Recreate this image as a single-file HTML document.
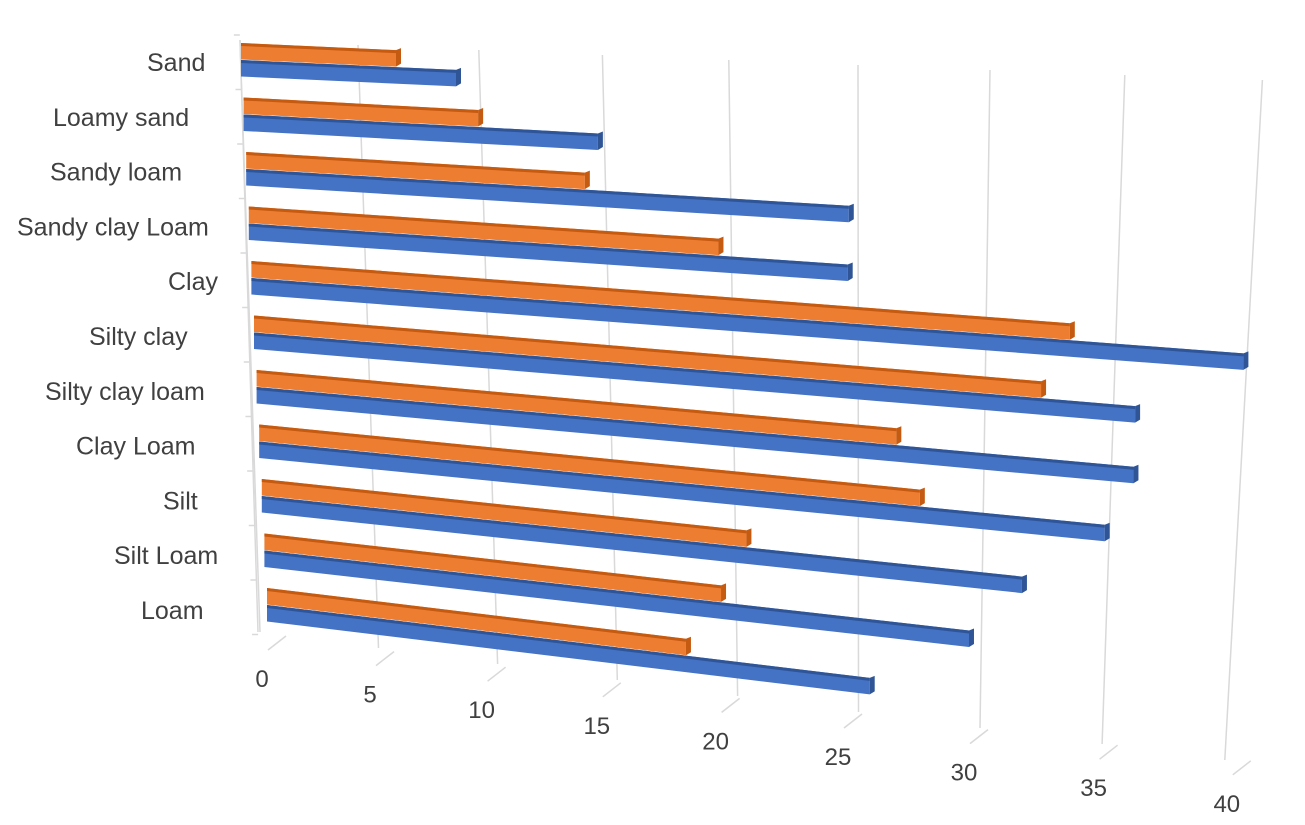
<!DOCTYPE html>
<html><head><meta charset="utf-8"><style>
html,body{margin:0;padding:0;background:#fff;}
svg{display:block;font-family:"Liberation Sans",sans-serif;}
</style></head><body>
<svg id="chart" width="1305" height="825" viewBox="0 0 1305 825" xmlns="http://www.w3.org/2000/svg">
<g id="grid"></g>
<g id="ylabels"></g>
<g id="xlabels"></g>
<g id="bars"></g>
</svg>
<script>
const categories = ["Sand","Loamy sand","Sandy loam","Sandy clay Loam","Clay","Silty clay","Silty clay loam","Clay Loam","Silt","Silt Loam","Loam"];
const seriesOrange = [6.2,9.4,13.6,18.9,33.0,31.8,25.9,26.8,19.7,18.6,17.1];
const seriesBlue = [8.6,14.2,24.2,24.1,40.0,35.6,35.5,34.3,30.9,28.7,24.6];
const xTicks = [0,5,10,15,20,25,30,35,40];

const labelStart = [147,53,50,17,168,89,45,76,163,114,141]; // layout only

const NS = "http://www.w3.org/2000/svg";
function mk(tag, attrs, parent){const e=document.createElementNS(NS,tag);for(const k in attrs)e.setAttribute(k,attrs[k]);parent.appendChild(e);return e;}

function rowLeft(r){return 241+2.6*r;}
function rowK(r){return 25-0.05*r;}
function rowTop(r){return 43+54.5*r;}
function rowSlope(r){return 0.046+0.0075*r;}
function xVal(v,r){return rowLeft(r)+v*rowK(r);}
function tickI(v){return v/5;}
function gridTopX(v){const i=tickI(v);return 240+118*i+1.4*i*(i-1);}
function gridBotX(v){const i=tickI(v);return 260+118.5*i+0.3*i*(i-1);}
function gridTopY(v){return 40+5*tickI(v);}
function gridBotY(v){return 632+16*tickI(v);}
function labX(v){const i=tickI(v);return 262+108*i+1.8*i*(i-1);}
function labY(v){return 678+15.6*tickI(v);}

const grid=document.getElementById('grid');
let ax=mk('line',{x1:240,y1:40,x2:258,y2:632,stroke:'#d9d9d9','stroke-width':1.5},grid);


xTicks.forEach(v=>{
  const l=mk('line',{x1:gridTopX(v),y1:gridTopY(v),x2:gridBotX(v),y2:gridBotY(v),stroke:'#d9d9d9','stroke-width':1.5},grid);
  
  
  const t=mk('line',{x1:labX(v)+6,y1:labY(v)-28,x2:labX(v)+24,y2:labY(v)-42,stroke:'#d9d9d9','stroke-width':1.5},grid);
  
  
});
for(let r=0;r<=categories.length;r++){
  const y=rowTop(r)-8;const x=240+18*(y-40)/592;
  const t=mk('line',{x1:x-6,y1:y,x2:x,y2:y,stroke:'#d9d9d9','stroke-width':1.5},grid);
  
  
}

const yl=document.getElementById('ylabels');
categories.forEach((c,r)=>{
  const t=mk('text',{x:labelStart[r],y:62+54.8*r+9,'font-size':25,fill:'#404040'},yl);
  t.textContent=c;
  
  
});
const xl=document.getElementById('xlabels');
xTicks.forEach(v=>{
  const t=mk('text',{x:labX(v),y:labY(v)+9,'text-anchor':'middle','font-size':24,fill:'#404040'},xl);
  t.textContent=String(v);
  
  
});

const bars=document.getElementById('bars');
function drawBar(r,v,s,face,dark,name){
  const L=rowLeft(r), xe=xVal(v,r), m=rowSlope(r), h=16.5;
  const y0=rowTop(r)+s*17, ye=y0+m*(xe-L);
  const g=mk('g',{},bars);
  
  
  mk('polygon',{points:`${L},${y0} ${xe},${ye} ${xe},${ye+h} ${L},${y0+h}`,fill:face},g);
  mk('polygon',{points:`${L},${y0} ${xe},${ye} ${xe},${ye+3} ${L},${y0+3}`,fill:dark},g);
  mk('polygon',{points:`${xe},${ye} ${xe+5},${ye-2} ${xe+5},${ye+h-3} ${xe},${ye+h}`,fill:dark},g);
}
categories.forEach((c,r)=>{
  drawBar(r,seriesBlue[r],1,'#4472C4','#2F5597','bar-blue-'+r);
  drawBar(r,seriesOrange[r],0,'#ED7D31','#C55A11','bar-orange-'+r);
});
</script>
</body></html>
